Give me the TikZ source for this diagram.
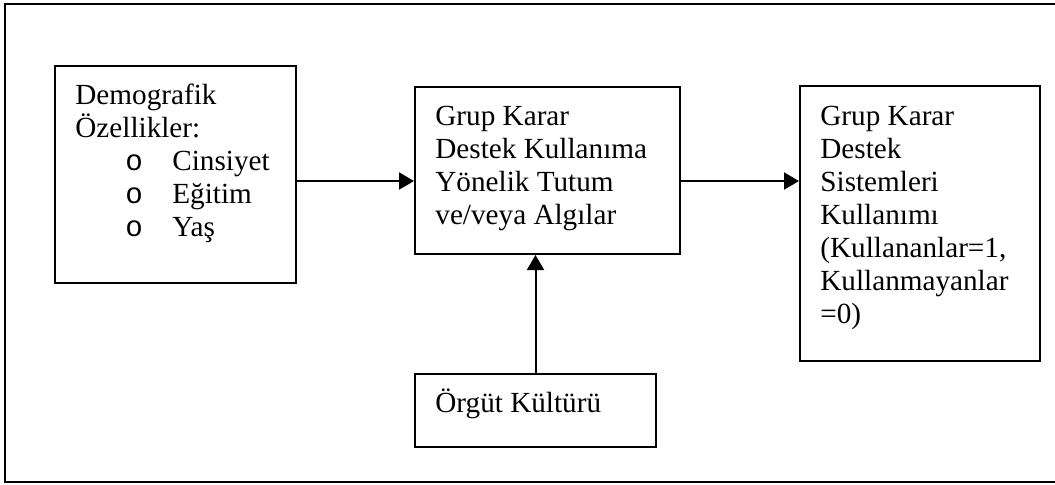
\documentclass[tikz,border=0pt]{standalone}
\usepackage{fontspec}
\setmainfont{Liberation Serif}
\newfontfamily\bulletfont{Liberation Mono}
\usetikzlibrary{arrows.meta}
\newcommand{\bitem}[1]{\hbox{\hspace*{25pt}\makebox[23.5pt][l]{\bulletfont o}#1}}
\begin{document}
\begin{tikzpicture}[x=0.5pt,y=-0.5pt,
  box/.style={draw,line width=1pt,inner sep=0pt,anchor=north west},
  txt/.style={inner sep=0pt,anchor=base west,font=\fontsize{14.6pt}{16.55pt}\selectfont},
  arr/.style={line width=1pt,-{Triangle[length=7.5pt,width=8.5pt]}}]
\useasboundingbox (0,0) rectangle (1055,484);
\clip (0,0) rectangle (1055,484);
% outer frame (runs past the right edge)
\draw[line width=1pt] (5,4) rectangle (1070,482);
% boxes
\node[box,minimum width=120.5pt,minimum height=108.5pt] (dem) at (54,65) {};
\node[box,minimum width=132.5pt,minimum height=83.5pt] (ag) at (414,86) {};
\node[box,minimum width=120pt,minimum height=137.5pt] (gkd) at (799,85) {};
\node[box,minimum width=120.5pt,minimum height=36.5pt] (org) at (414,373) {};
% box texts
\node[txt] (demt) at (75,104) {\vtop{\hbox{Demografik}\hbox{Özellikler:}
  \bitem{Cinsiyet}\bitem{Eğitim}\bitem{Yaş}}};
\node[txt] (agt) at (435,125) {\vtop{\hbox{Grup Karar}\hbox{Destek Kullanıma}
  \hbox{Yönelik Tutum}\hbox{ve/veya Algılar}}};
\node[txt] (gkdt) at (820,125) {\vtop{\hbox{Grup Karar}\hbox{Destek}\hbox{Sistemleri}
  \hbox{Kullanımı}\hbox{(Kullananlar=1,}\hbox{Kullanmayanlar}\hbox{=0)}}};
\node[txt] (orgt) at (435,412) {Örgüt Kültürü};
% connectors
\coordinate (lvl) at (0,181);
\draw[arr] (dem.east |- lvl) -- (ag.west |- lvl);
\draw[arr] (ag.east |- lvl) -- (gkd.west |- lvl);
\draw[arr] (org.north) -- (org.north |- ag.south);
\end{tikzpicture}
\end{document}
